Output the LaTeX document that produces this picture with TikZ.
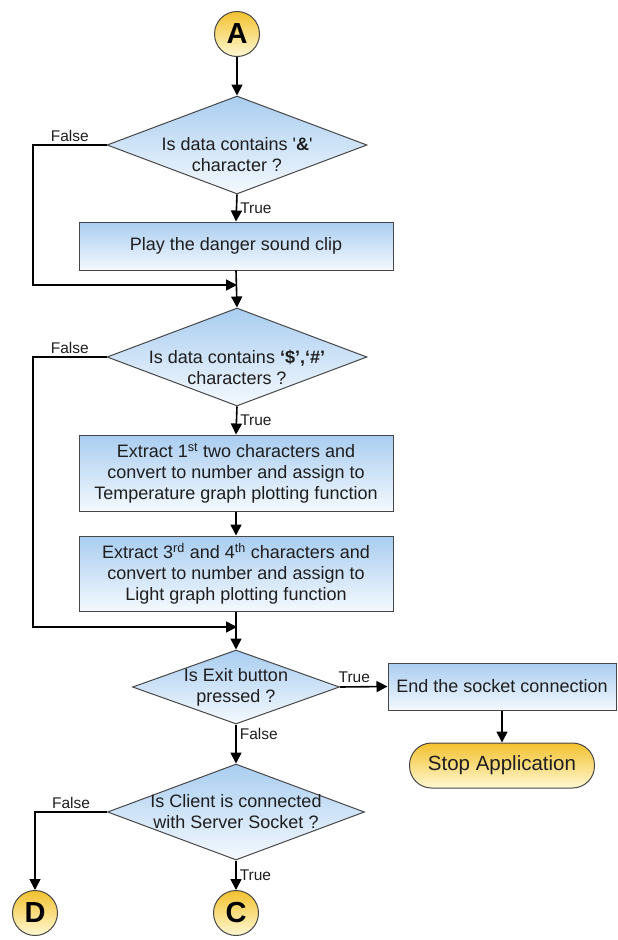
\documentclass[tikz,border=0pt]{standalone}
\usepackage{fontspec}
\setmainfont{Liberation Sans}
\usetikzlibrary{arrows.meta,shapes.geometric,positioning}
\definecolor{boxtop}{HTML}{A9CDF0}
\definecolor{boxbot}{HTML}{F4F9FE}
\definecolor{gold}{HTML}{F2C12E}
\definecolor{paleyellow}{HTML}{FFF8D2}
\definecolor{edgegray}{HTML}{474747}
\definecolor{inkgray}{HTML}{1E1E1E}

\tikzset{
  procbox/.style={rectangle, draw=edgegray, line width=1pt, top color=boxtop, bottom color=boxbot,
    align=center, inner sep=0pt, minimum width=314pt, text=inkgray, font=\fontsize{18}{21}\selectfont},
  decision/.style={diamond, draw=edgegray, line width=1pt, top color=boxtop, bottom color=boxbot, inner sep=0pt},
  qtext/.style={align=center, inner sep=0pt, text=inkgray, font=\fontsize{18}{21}\selectfont},
  connector/.style={circle, draw=edgegray, line width=1pt, top color=gold, bottom color=paleyellow,
    minimum size=45pt, inner sep=0pt, font=\fontsize{29}{30}\selectfont\bfseries},
  terminal/.style={rectangle, rounded corners=22pt, draw=edgegray, line width=1pt, top color=gold,
    bottom color=paleyellow, minimum width=185pt, minimum height=45pt, inner sep=0pt,
    text=inkgray, font=\fontsize{20.5}{22}\selectfont},
  flow/.style={line width=1.6pt, -{Triangle[length=11pt,width=11pt]}},
  tf/.style={font=\fontsize{15.5}{18}\selectfont, text=inkgray, inner sep=3pt},
}

\begin{document}
\begin{tikzpicture}[x=1pt, y=-1pt]
\useasboundingbox (0,0) rectangle (618,940);
% Start
\node[connector] (A) at (237,34) {A};
% '&' test and sound clip
\node[decision, minimum width=260pt, minimum height=98pt,
  label={[qtext, yshift=-10pt]center:{Is data contains \textquotesingle\textbf{\&}\textquotesingle\\character ?}}] (d1) at (237,145) {};
\node[procbox, minimum height=48pt] (b1) at (236,246) {Play the danger sound clip};
\coordinate (l1) at (33,145);
\coordinate (m1) at (237,285);
% '$','#' test and extraction
\node[decision, minimum width=260pt, minimum height=98pt,
  label={[qtext, yshift=-10pt]center:{Is data contains \textbf{‘\$’,‘\#’}\\characters ?}}] (d2) at (237,357) {};
\node[procbox, minimum height=76pt] (b2) at (236,473)
  {Extract 1\textsuperscript{st} two characters and\\convert to number and assign to\\Temperature graph plotting function};
\node[procbox, minimum height=75pt] (b3) at (236,573.5)
  {Extract 3\textsuperscript{rd} and 4\textsuperscript{th} characters and\\convert to number and assign to\\Light graph plotting function};
\coordinate (l2) at (33,357);
\coordinate (m2) at (237,627);
% Exit test
\node[decision, minimum width=207pt, minimum height=74pt,
  label={[qtext]center:{Is Exit button\\pressed ?}}] (d3) at (236,687) {};
\node[procbox, minimum width=228pt, minimum height=47pt] (b4) at (502,686.5) {End the socket connection};
\node[terminal] (stop) at (502,765.5) {Stop Application};
% Client test
\node[decision, minimum width=257pt, minimum height=96pt,
  label={[qtext]center:{Is Client is connected\\with Server Socket ?}}] (d4) at (236,812) {};
\node[connector] (D) at (35,913) {D};
\node[connector] (C) at (236,913) {C};

% Connectors
\draw[flow] (A) -- (d1.north);
\draw[flow] (d1.south) -- node[right, tf] {True} (b1.north);
\draw[flow] (d1.west) -- node[above, tf] {False} (l1) |- (m1);
\draw[flow] (b1.south) -- (d2.north);
\draw[flow] (d2.south) -- node[right, tf] {True} (b2.north);
\draw[flow] (d2.west) -- node[above, tf] {False} (l2) |- (m2);
\draw[flow] (b2.south) -- (b3.north);
\draw[flow] (b3.south) -- (d3.north);
\draw[flow] (d3.east) -- node[pos=0.3, above, tf] {True} (b4.west);
\draw[flow] (b4.south) -- (stop.north);
\draw[flow] (d3.south) -- node[pos=0.25, right, tf] {False} (d4.north);
\draw[flow] (d4.west) -| node[pos=0.25, above, tf] {False} (D.north);
\draw[flow] (d4.south) -- node[right, tf] {True} (C.north);
\end{tikzpicture}
\end{document}
